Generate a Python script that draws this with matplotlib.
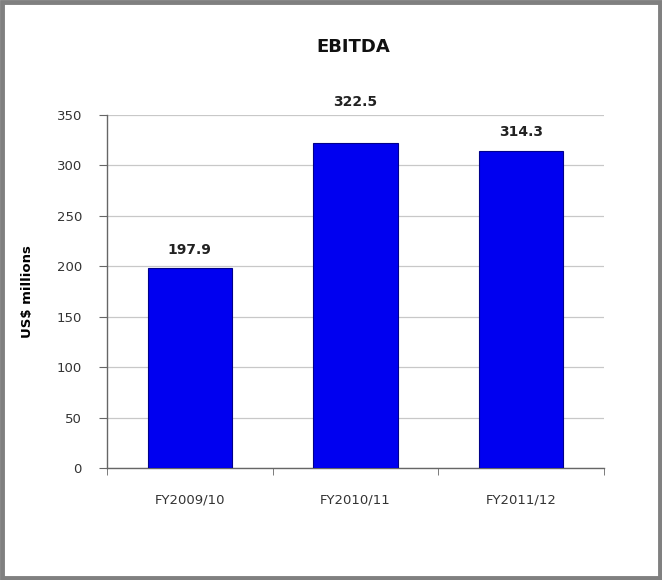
import matplotlib.pyplot as plt
from matplotlib.patches import Rectangle

# Daten
jahre = ["FY2009/10", "FY2010/11", "FY2011/12"]
ebitda = [197.9, 322.5, 314.3]
y_ticks = [0, 50, 100, 150, 200, 250, 300, 350]

# Abstand der Beschriftung über dem Balken (Punkte)
label_abstand = [8, 24, 9]

plt.rcParams["font.family"] = ["DejaVu Sans"]

fig = plt.figure(figsize=(6.62, 5.8), dpi=100)
ax = fig.add_axes([0.1616, 0.1931, 0.7508, 0.6086])

x = list(range(len(jahre)))
balken = ax.bar(x, ebitda, width=0.51, color="#0000F0", edgecolor="#00008B", linewidth=0.8, zorder=3)

# Werte über den Balken
for i, b in enumerate(balken):
    ax.annotate(f"{ebitda[i]:.1f}", (b.get_x() + b.get_width() / 2, b.get_height()),
                xytext=(0, label_abstand[i]), textcoords="offset points",
                ha="center", va="bottom", fontsize=10, fontweight="bold", color="#222222")

# Achsen
ax.set_xlim(-0.5, len(jahre) - 0.5)
ax.set_ylim(0, 350)
ax.set_yticks(y_ticks)
ax.grid(axis="y", color="#c8c8c8", linewidth=0.9, zorder=0)

ax.set_xticks(x)
ax.set_xticklabels(jahre, fontsize=9.5, color="#333333")
ax.set_xticks([i - 0.5 for i in range(len(jahre) + 1)], minor=True)
ax.tick_params(axis="x", which="major", length=0, pad=18)
ax.tick_params(axis="x", which="minor", length=5, direction="out", color="#666666")
ax.tick_params(axis="y", labelsize=9.5, labelcolor="#333333", length=6, color="#666666", pad=12)

for s in ["top", "right"]:
    ax.spines[s].set_visible(False)
for s in ["left", "bottom"]:
    ax.spines[s].set_color("#666666")
    ax.spines[s].set_linewidth(1.0)

ax.set_ylabel("US$ millions", fontsize=9.5, fontweight="bold", labelpad=16)

fig.text(0.533, 0.919, "EBITDA", ha="center", va="center", fontsize=13, fontweight="bold", color="#111111")

# Rahmen
fig.patches.append(Rectangle((0.003, 0.004), 0.994, 0.992, transform=fig.transFigure,
                             fill=False, edgecolor="#808080", linewidth=3.5))

plt.savefig("out.png", dpi=100)
